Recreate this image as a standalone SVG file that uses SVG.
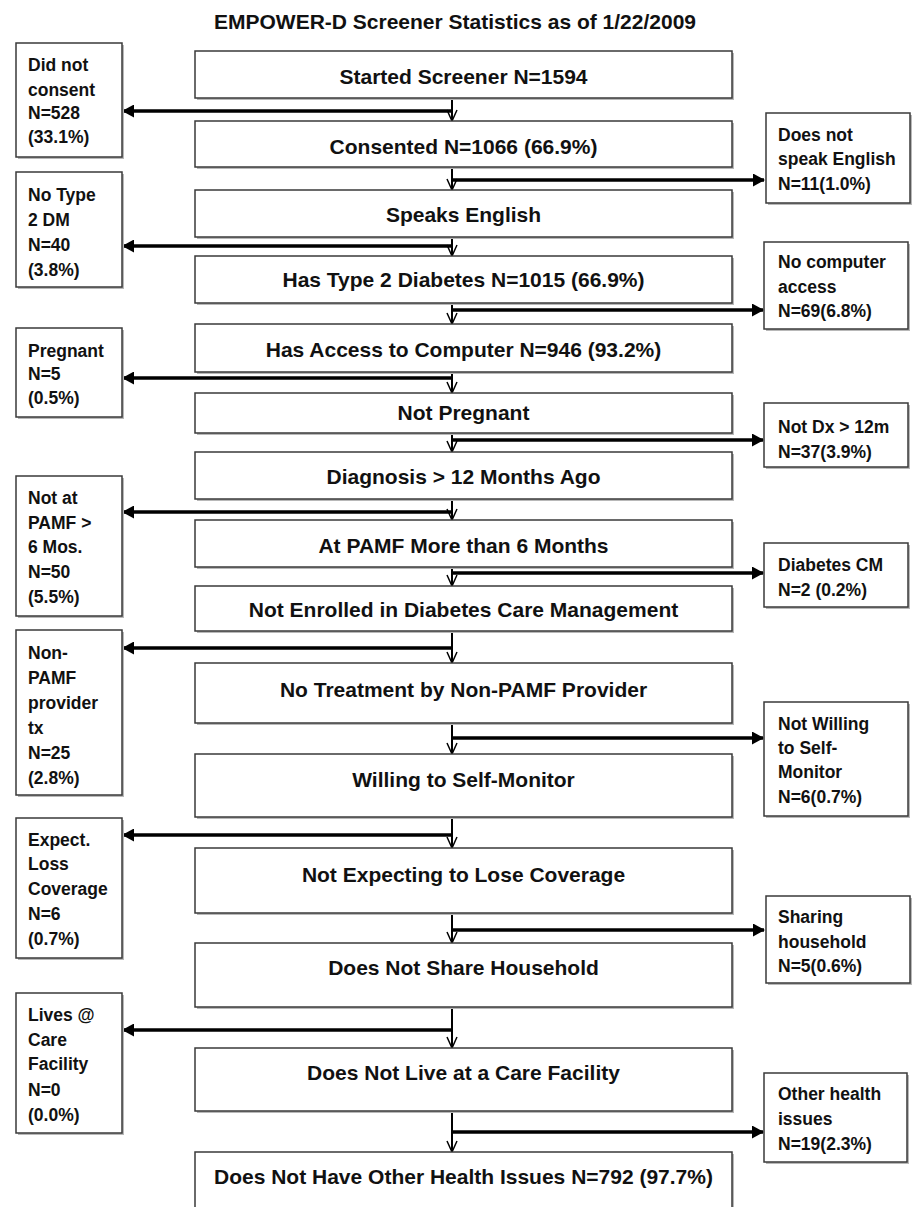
<svg xmlns="http://www.w3.org/2000/svg" width="914" height="1207" viewBox="0 0 914 1207">
<style>
.bg{fill:#fff}
.sh{fill:#b8b8b8}
.box{fill:#fff;stroke:#3a3a3a;stroke-width:1.5}
.mt{font-family:"Liberation Sans",Arial,sans-serif;font-weight:bold;font-size:21px;text-anchor:middle;fill:#111}
.st{font-family:"Liberation Sans",Arial,sans-serif;font-weight:bold;font-size:17.5px;fill:#111}
.h{stroke:#000;stroke-width:3.5;fill:none}
.v{stroke:#000;stroke-width:2;fill:none}
</style>
<defs>
<marker id="ah" markerUnits="userSpaceOnUse" markerWidth="12" markerHeight="13" refX="11" refY="6.5" orient="auto">
<path d="M0,0 L12,6.5 L0,13 z" fill="#000"/>
</marker>
<marker id="av" markerUnits="userSpaceOnUse" markerWidth="12" markerHeight="13" refX="6" refY="12" orient="0">
<path d="M1,1 L6,12 L11,1" stroke="#000" stroke-width="1.5" fill="none"/>
</marker>
</defs>
<rect class="bg" x="0" y="0" width="914" height="1207"/>
<text id="title" class="mt" x="455" y="29">EMPOWER-D Screener Statistics as of 1/22/2009</text>

<g id="connectors">
<line class="v" x1="452" y1="98" x2="452" y2="121" marker-end="url(#av)"/>
<line class="h" x1="452" y1="111" x2="123" y2="111" marker-end="url(#ah)"/>
<line class="v" x1="452" y1="167" x2="452" y2="190" marker-end="url(#av)"/>
<line class="h" x1="452" y1="180" x2="764" y2="180" marker-end="url(#ah)"/>
<line class="v" x1="452" y1="237" x2="452" y2="256" marker-end="url(#av)"/>
<line class="h" x1="452" y1="246" x2="123" y2="246" marker-end="url(#ah)"/>
<line class="v" x1="452" y1="303" x2="452" y2="324" marker-end="url(#av)"/>
<line class="h" x1="452" y1="310" x2="763" y2="310" marker-end="url(#ah)"/>
<line class="v" x1="452" y1="372" x2="452" y2="393" marker-end="url(#av)"/>
<line class="h" x1="452" y1="378" x2="123" y2="378" marker-end="url(#ah)"/>
<line class="v" x1="452" y1="433" x2="452" y2="452" marker-end="url(#av)"/>
<line class="h" x1="452" y1="440" x2="763" y2="440" marker-end="url(#ah)"/>
<line class="v" x1="452" y1="499" x2="452" y2="520" marker-end="url(#av)"/>
<line class="h" x1="452" y1="512" x2="123" y2="512" marker-end="url(#ah)"/>
<line class="v" x1="452" y1="567" x2="452" y2="586" marker-end="url(#av)"/>
<line class="h" x1="452" y1="573" x2="763" y2="573" marker-end="url(#ah)"/>
<line class="v" x1="452" y1="631" x2="452" y2="663" marker-end="url(#av)"/>
<line class="h" x1="452" y1="648" x2="123" y2="648" marker-end="url(#ah)"/>
<line class="v" x1="452" y1="723" x2="452" y2="754" marker-end="url(#av)"/>
<line class="h" x1="452" y1="738" x2="763" y2="738" marker-end="url(#ah)"/>
<line class="v" x1="452" y1="817" x2="452" y2="848" marker-end="url(#av)"/>
<line class="h" x1="452" y1="835" x2="123" y2="835" marker-end="url(#ah)"/>
<line class="v" x1="452" y1="913" x2="452" y2="943" marker-end="url(#av)"/>
<line class="h" x1="452" y1="930" x2="764" y2="930" marker-end="url(#ah)"/>
<line class="v" x1="452" y1="1007" x2="452" y2="1048" marker-end="url(#av)"/>
<line class="h" x1="452" y1="1030" x2="123" y2="1030" marker-end="url(#ah)"/>
<line class="v" x1="452" y1="1111" x2="452" y2="1152" marker-end="url(#av)"/>
<line class="h" x1="452" y1="1132" x2="763" y2="1132" marker-end="url(#ah)"/>
</g>

<g id="n1"><rect class="sh" x="197" y="53" width="537" height="47"/><rect class="box" x="195" y="51" width="537" height="47"/><text class="mt" x="463.5" y="84">Started Screener N=1594</text></g>
<g id="n2"><rect class="sh" x="197" y="123" width="537" height="46"/><rect class="box" x="195" y="121" width="537" height="46"/><text class="mt" x="463.5" y="154">Consented N=1066 (66.9%)</text></g>
<g id="n3"><rect class="sh" x="197" y="192" width="537" height="47"/><rect class="box" x="195" y="190" width="537" height="47"/><text class="mt" x="463.5" y="222">Speaks English</text></g>
<g id="n4"><rect class="sh" x="197" y="258" width="537" height="47"/><rect class="box" x="195" y="256" width="537" height="47"/><text class="mt" x="463.5" y="287">Has Type 2 Diabetes N=1015 (66.9%)</text></g>
<g id="n5"><rect class="sh" x="197" y="326" width="537" height="48"/><rect class="box" x="195" y="324" width="537" height="48"/><text class="mt" x="463.5" y="357">Has Access to Computer N=946 (93.2%)</text></g>
<g id="n6"><rect class="sh" x="197" y="395" width="537" height="40"/><rect class="box" x="195" y="393" width="537" height="40"/><text class="mt" x="463.5" y="420">Not Pregnant</text></g>
<g id="n7"><rect class="sh" x="197" y="454" width="537" height="47"/><rect class="box" x="195" y="452" width="537" height="47"/><text class="mt" x="463.5" y="484">Diagnosis &gt; 12 Months Ago</text></g>
<g id="n8"><rect class="sh" x="197" y="522" width="537" height="47"/><rect class="box" x="195" y="520" width="537" height="47"/><text class="mt" x="463.5" y="553">At PAMF More than 6 Months</text></g>
<g id="n9"><rect class="sh" x="197" y="588" width="537" height="45"/><rect class="box" x="195" y="586" width="537" height="45"/><text class="mt" x="463.5" y="617">Not Enrolled in Diabetes Care Management</text></g>
<g id="n10"><rect class="sh" x="197" y="665" width="537" height="60"/><rect class="box" x="195" y="663" width="537" height="60"/><text class="mt" x="463.5" y="697">No Treatment by Non-PAMF Provider</text></g>
<g id="n11"><rect class="sh" x="197" y="756" width="537" height="63"/><rect class="box" x="195" y="754" width="537" height="63"/><text class="mt" x="463.5" y="787">Willing to Self-Monitor</text></g>
<g id="n12"><rect class="sh" x="197" y="850" width="537" height="65"/><rect class="box" x="195" y="848" width="537" height="65"/><text class="mt" x="463.5" y="882">Not Expecting to Lose Coverage</text></g>
<g id="n13"><rect class="sh" x="197" y="945" width="537" height="64"/><rect class="box" x="195" y="943" width="537" height="64"/><text class="mt" x="463.5" y="975">Does Not Share Household</text></g>
<g id="n14"><rect class="sh" x="197" y="1050" width="537" height="63"/><rect class="box" x="195" y="1048" width="537" height="63"/><text class="mt" x="463.5" y="1080">Does Not Live at a Care Facility</text></g>
<g id="n15"><rect class="sh" x="197" y="1154" width="537" height="70"/><rect class="box" x="195" y="1152" width="537" height="70"/><text class="mt" x="463.5" y="1184">Does Not Have Other Health Issues N=792 (97.7%)</text></g>

<g id="l1"><rect class="sh" x="18" y="45" width="106" height="114"/><rect class="box" x="16" y="43" width="106" height="114"/>
<text class="st" x="28"><tspan x="28" y="71">Did not</tspan><tspan x="28" y="96">consent</tspan><tspan x="28" y="119">N=528</tspan><tspan x="28" y="143">(33.1%)</tspan></text></g>
<g id="l2"><rect class="sh" x="18" y="174" width="106" height="115"/><rect class="box" x="16" y="172" width="106" height="115"/>
<text class="st" x="28"><tspan x="28" y="201">No Type</tspan><tspan x="28" y="226">2 DM</tspan><tspan x="28" y="251">N=40</tspan><tspan x="28" y="276">(3.8%)</tspan></text></g>
<g id="l3"><rect class="sh" x="18" y="330" width="106" height="89"/><rect class="box" x="16" y="328" width="106" height="89"/>
<text class="st" x="28"><tspan x="28" y="357">Pregnant</tspan><tspan x="28" y="380">N=5</tspan><tspan x="28" y="404">(0.5%)</tspan></text></g>
<g id="l4"><rect class="sh" x="18" y="478" width="106" height="140"/><rect class="box" x="16" y="476" width="106" height="140"/>
<text class="st" x="28"><tspan x="28" y="504">Not at</tspan><tspan x="28" y="529">PAMF &gt;</tspan><tspan x="28" y="553">6 Mos.</tspan><tspan x="28" y="578">N=50</tspan><tspan x="28" y="603">(5.5%)</tspan></text></g>
<g id="l5"><rect class="sh" x="18" y="632" width="106" height="165"/><rect class="box" x="16" y="630" width="106" height="165"/>
<text class="st" x="28"><tspan x="28" y="659">Non-</tspan><tspan x="28" y="684">PAMF</tspan><tspan x="28" y="709">provider</tspan><tspan x="28" y="734">tx</tspan><tspan x="28" y="759">N=25</tspan><tspan x="28" y="784">(2.8%)</tspan></text></g>
<g id="l6"><rect class="sh" x="18" y="820" width="106" height="140"/><rect class="box" x="16" y="818" width="106" height="140"/>
<text class="st" x="28"><tspan x="28" y="846">Expect.</tspan><tspan x="28" y="870">Loss</tspan><tspan x="28" y="895">Coverage</tspan><tspan x="28" y="920">N=6</tspan><tspan x="28" y="945">(0.7%)</tspan></text></g>
<g id="l7"><rect class="sh" x="18" y="995" width="106" height="140"/><rect class="box" x="16" y="993" width="106" height="140"/>
<text class="st" x="28"><tspan x="28" y="1021">Lives @</tspan><tspan x="28" y="1046">Care</tspan><tspan x="28" y="1070">Facility</tspan><tspan x="28" y="1096">N=0</tspan><tspan x="28" y="1121">(0.0%)</tspan></text></g>

<g id="r1"><rect class="sh" x="768" y="115" width="144" height="90"/><rect class="box" x="766" y="113" width="144" height="90"/>
<text class="st" x="778"><tspan x="778" y="141">Does not</tspan><tspan x="778" y="165">speak English</tspan><tspan x="778" y="190">N=11(1.0%)</tspan></text></g>
<g id="r2"><rect class="sh" x="766" y="244" width="144" height="87"/><rect class="box" x="764" y="242" width="144" height="87"/>
<text class="st" x="778"><tspan x="778" y="268">No computer</tspan><tspan x="778" y="293">access</tspan><tspan x="778" y="317">N=69(6.8%)</tspan></text></g>
<g id="r3"><rect class="sh" x="766" y="405" width="144" height="64"/><rect class="box" x="764" y="403" width="144" height="64"/>
<text class="st" x="778"><tspan x="778" y="433">Not Dx &gt; 12m</tspan><tspan x="778" y="458">N=37(3.9%)</tspan></text></g>
<g id="r4"><rect class="sh" x="766" y="545" width="144" height="64"/><rect class="box" x="764" y="543" width="144" height="64"/>
<text class="st" x="778"><tspan x="778" y="571">Diabetes CM</tspan><tspan x="778" y="596">N=2 (0.2%)</tspan></text></g>
<g id="r5"><rect class="sh" x="766" y="704" width="144" height="114"/><rect class="box" x="764" y="702" width="144" height="114"/>
<text class="st" x="778"><tspan x="778" y="730">Not Willing</tspan><tspan x="778" y="754">to Self-</tspan><tspan x="778" y="778">Monitor</tspan><tspan x="778" y="803">N=6(0.7%)</tspan></text></g>
<g id="r6"><rect class="sh" x="768" y="898" width="144" height="87"/><rect class="box" x="766" y="896" width="144" height="87"/>
<text class="st" x="778"><tspan x="778" y="923">Sharing</tspan><tspan x="778" y="948">household</tspan><tspan x="778" y="972">N=5(0.6%)</tspan></text></g>
<g id="r7"><rect class="sh" x="766" y="1075" width="143" height="89"/><rect class="box" x="764" y="1073" width="143" height="89"/>
<text class="st" x="778"><tspan x="778" y="1100">Other health</tspan><tspan x="778" y="1125">issues</tspan><tspan x="778" y="1150">N=19(2.3%)</tspan></text></g>
</svg>
